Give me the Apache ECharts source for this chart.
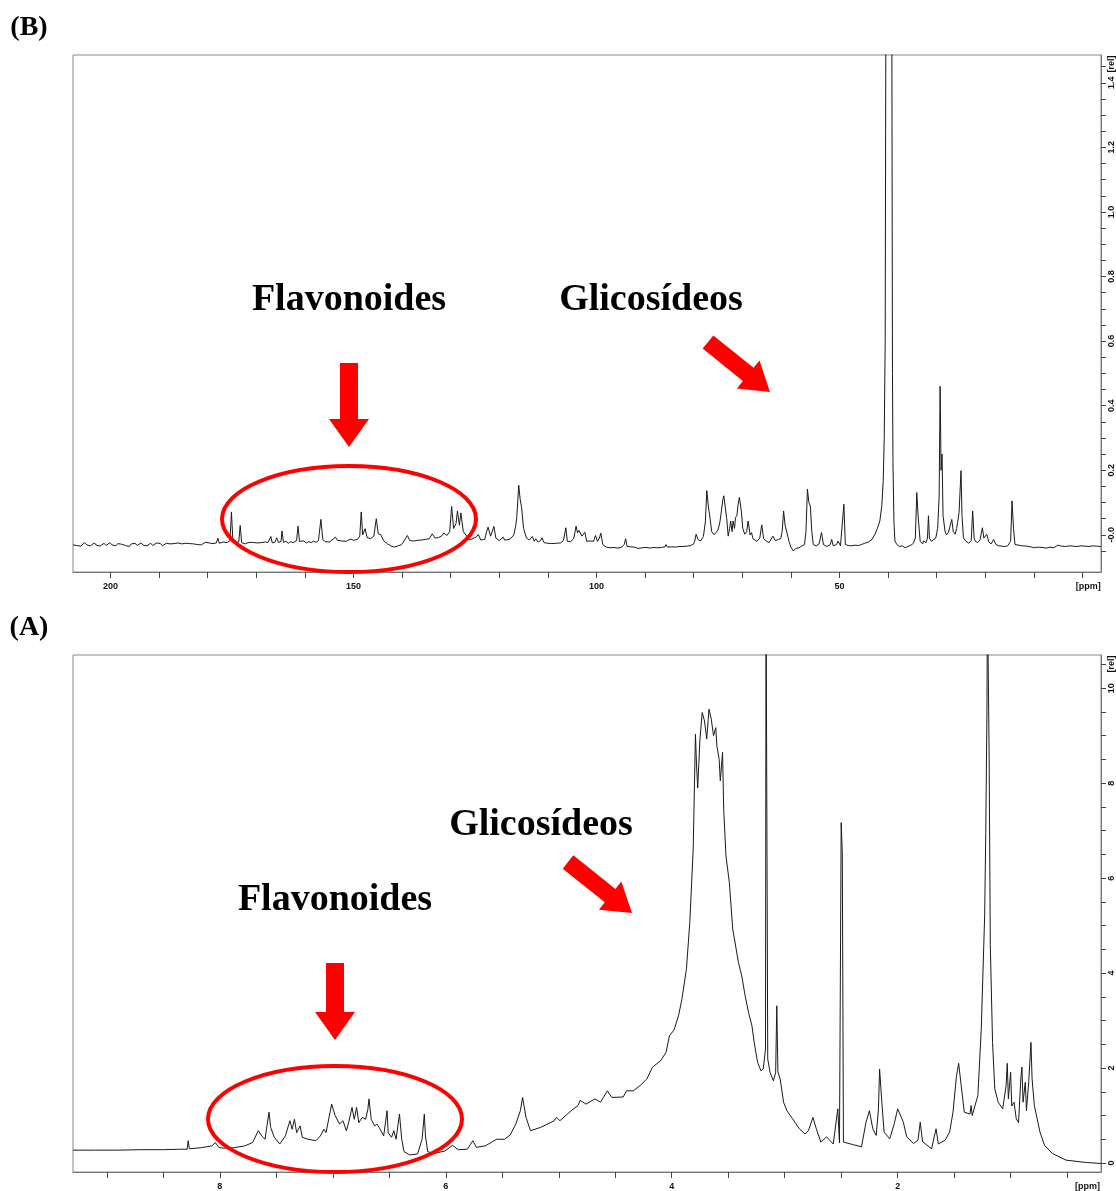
<!DOCTYPE html>
<html>
<head>
<meta charset="utf-8">
<script src="https://cdn.jsdelivr.net/npm/echarts@6/dist/echarts.min.js"></script>
<style>
  html, body { margin: 0; padding: 0; background: #fff; }
  #chart { width: 1116px; height: 1191px; }
</style>
</head>
<body>
<div id="chart"></div>
<script>
// 13C spectrum (B) -- [ppm, rel]
const carbonBaseline = [
  [207.7,-0.031],[207.3,-0.026],[206.9,-0.033],[206.5,-0.028],[206.1,-0.035],[205.7,-0.029],[205.3,-0.024],
  [204.9,-0.031],[204.5,-0.027],[204.1,-0.034],[203.7,-0.030],[203.3,-0.025],[202.9,-0.032],[202.5,-0.028],
  [202.1,-0.035],[201.7,-0.029],[201.3,-0.026],[200.9,-0.033],[200.5,-0.030],[200.1,-0.024],[199.7,-0.031],
  [199.3,-0.028],[198.9,-0.034],[198.5,-0.027],[198.1,-0.032],[197.7,-0.029],[197.3,-0.025],[196.9,-0.033],
  [196.5,-0.030],[196.1,-0.036],[195.7,-0.028],[195.3,-0.031],[194.9,-0.026],[194.5,-0.033],[194.1,-0.029],
  [193.7,-0.025],[193.3,-0.032],[192.9,-0.028],[192.5,-0.034],[192.1,-0.029],[191.7,-0.026],[191.3,-0.033],
  [190.9,-0.030],[190.5,-0.025],[190.1,-0.031],[189.7,-0.027],[189.3,-0.034],[188.9,-0.029],[188.5,-0.026],
  [188.1,-0.032],[187.7,-0.028],[187.3,-0.033],[186.9,-0.027],[186.5,-0.030],[186.1,-0.025],[185.7,-0.031],
  [185.3,-0.028],[184.9,-0.033],[184.5,-0.026],[184.1,-0.030],[183.7,-0.027],[183.3,-0.032],[182.9,-0.028],
  [182.5,-0.024],[182.1,-0.030],[181.7,-0.026],[181.3,-0.031],[180.9,-0.027],[180.5,-0.023],[180.1,-0.029],
  [179.7,-0.025],[179.3,-0.022],[178.9,-0.027],[178.6,-0.024]
];
const carbonAromatic = [
  [178.2,-0.025],[177.9,-0.010],[177.6,-0.026],[176.8,-0.022],[176,-0.024],[175.4,-0.018],[175.1,0.071],
  [174.8,-0.020],[174.1,-0.024],[173.6,-0.022],[173.3,0.029],[173,-0.024],[172.6,-0.021],[172.2,-0.028],
  [171.7,-0.024],[171.3,-0.027],[170.8,-0.023],[170.4,-0.029],[169.9,-0.025],[169.5,-0.028],[169,-0.024],
  [168.6,-0.027],[168.1,-0.022],[167.6,-0.024],[167.0,-0.005],[166.7,-0.025],[166.1,-0.022],
  [165.8,-0.009],[165.4,-0.024],[164.9,-0.020],[164.7,0.012],[164.4,-0.023],[163.9,-0.020],[163.4,-0.026],
  [162.9,-0.021],[162.4,-0.024],[161.7,-0.018],[161.4,0.027],[161.1,-0.020],[160.7,-0.023],[160.2,-0.019],
  [159.7,-0.025],[159.2,-0.021],[158.7,-0.024],[158.2,-0.020],[157.7,-0.023],[157.2,-0.018],
  [156.7,0.048],[156.3,-0.015],[155.8,-0.021],[155.4,-0.017],[154.9,-0.022],[154.5,-0.018],[153.7,-0.007],
  [153.3,-0.017],[152.9,-0.013],[152.4,-0.019],[152,-0.015],[151.5,-0.020],[151,-0.016],[150.5,-0.013],
  [150,-0.017],[149.6,-0.011],[149.2,-0.014],[148.7,-0.004],[148.4,0.071],[148.1,0.000],[147.6,0.019],
  [147.2,-0.008],[146.5,-0.012],[145.8,-0.004],[145.3,0.050],[144.9,0.003],[144.4,0.001],[143.8,-0.018],
  [143.4,-0.024],[143,-0.028],[142.6,-0.031],[142.3,-0.034],[141.9,-0.036],[141.7,-0.038],[141.3,-0.033],
  [141,-0.035],[140.6,-0.029],[140.2,-0.031],[139.8,-0.024],[139.5,-0.020],[138.9,-0.002],
  [138.4,-0.018],[138,-0.023],[137.6,-0.019],[137.2,-0.024],[136.8,-0.017],[136.4,-0.021],[136,-0.016],
  [135.6,-0.020],[135.2,-0.014],[134.8,-0.018],[134.4,-0.012],[133.8,0.003],
  [133.2,-0.010],[132.8,-0.014],[132.5,-0.008],[132.2,-0.011],[131.9,-0.004],[131.4,0.006],[130.8,-0.002],
  [130.2,0.010],[129.8,0.088],
  [129.4,0.020],[128.9,0.035],[128.6,0.074],[128.2,0.030],[127.9,0.068],[127.4,0.010],[126.7,-0.004],
  [126.3,-0.014],[126,-0.018],[125.6,-0.013],[125.3,-0.016],[124.7,-0.006],[124.3,0.001],[123.8,-0.016],
  [123.4,-0.011],[123,-0.014],[122.6,0.010],
  [122.3,0.024],[121.8,-0.004],[121.4,0.012],[121.1,0.026],[120.7,-0.010],[120.3,-0.014],[120,-0.018],
  [119.6,-0.012],[119.2,-0.007],[118.9,-0.016],[118.6,-0.020],[118.2,-0.015],[117.7,-0.012],[117.3,-0.006],
  [117,0.000],[116.6,0.030],[116.4,0.053],[116,0.154],[115.7,0.110],
  [115.4,0.084],[115,0.020],[114.4,-0.010],[113.8,-0.016],[113.2,-0.005],[112.8,-0.020],[112.5,-0.012],
  [112,-0.022],[111.5,-0.018],[111.2,-0.009],[110.8,-0.024],[110.4,-0.021],[110,-0.026],[109.6,-0.023],
  [109.2,-0.027],[108.8,-0.022],[108.3,-0.026],[107.9,-0.023],[107.4,-0.025],[106.8,-0.018],[106.3,0.022],
  [106,-0.020],[105.6,-0.025],[105.3,-0.021],[104.7,-0.012],[104.4,0.010],
  [104.2,0.027],[103.9,0.006],[103.6,0.014],[103.4,0.019],[103,-0.004],[102.7,-0.010],[102.4,0.008],
  [102,-0.020],[101.6,-0.015],[101.3,-0.019],[100.9,-0.023],[100.6,-0.020],[100.2,-0.002],[99.8,-0.020],
  [99.4,-0.010],[99.1,0.005],[98.7,-0.030],[98.3,-0.035],[98,-0.038],[97.6,-0.034],[97.2,-0.040],
  [96.8,-0.036],[96.4,-0.039],[96,-0.035],[95.6,-0.041],[95.2,-0.037],[94.8,-0.038],[94.3,-0.030],
  [94.0,-0.012],[93.7,-0.036],[93.3,-0.041],[93,-0.037],[92.6,-0.042],[92.2,-0.038],[91.8,-0.035],
  [91.4,-0.042],[91,-0.038],[90.6,-0.040],[90.2,-0.035],[89.8,-0.039],[89.4,-0.036],[89,-0.041],
  [88.6,-0.037],[88.2,-0.039],[87.8,-0.035],[87.4,-0.040],[87,-0.037],[86.6,-0.039],[86.2,-0.035],
  [85.9,-0.037],[85.7,-0.030],[85.4,-0.038],[85,-0.034],[84.6,-0.037],[84.2,-0.033],[83.8,-0.038],
  [83.4,-0.034],[83,-0.036],[82.6,-0.032],[82.2,-0.036],[81.8,-0.033],[81.4,-0.035],[81,-0.031],
  [80.6,-0.033],[80.3,-0.029],[80,-0.028]
];
const carbonSugar = [
  [79.8,-0.020],[79.5,0.002],[79.1,-0.015],[78.6,-0.019],[78.0,-0.005],[77.6,0.040],[77.3,0.137],[77,0.090],
  [76.7,0.059],[76.3,0.010],[75.8,0.000],[75.5,0.002],[75,0.015],[74.6,0.040],[74.3,0.074],[74,0.110],
  [73.8,0.121],[73.5,0.116],[73.2,0.050],[72.9,-0.004],[72.6,0.020],[72.4,0.043],[72.1,0.010],[71.9,0.043],
  [71.6,0.020],[71.4,0.053],[71.1,0.060],[70.9,0.090],[70.6,0.116],[70.2,0.074],[69.9,0.020],[69.5,0.002],
  [69.1,0.010],[68.8,0.043],[68.4,0.000],[68.1,0.007],[67.8,-0.012],[67.5,-0.009],[67,-0.020],[66.4,-0.010],
  [66,0.031],[65.6,-0.012],[65.1,-0.019],[64.5,-0.024],[63.7,-0.004],[63.2,-0.018],[62.6,-0.014],
  [62.1,-0.012],[61.8,0.010],[61.5,0.074],[61.2,0.030],[60.9,0.012],[60.4,-0.020],[60,-0.038],[59.5,-0.050],
  [59,-0.042],[58.4,-0.040],[57.8,-0.035],[57.2,-0.030],[56.9,0.010],[56.6,0.142],[56.3,0.100],[56,0.090],
  [55.7,0.010],[55.4,-0.030],[54.8,-0.034],[54.2,-0.028],[53.7,0.007],[53.3,-0.030],[52.6,-0.036],
  [51.9,-0.030],[51.6,-0.014],[51.3,-0.034],[50.6,-0.030],[50.3,-0.019],[49.8,-0.034],[49.4,-0.030],
  [49.1,0.095],[48.8,-0.030],[48.5,-0.036],[48.2,-0.033],[47.8,-0.038],[47.5,-0.034],[47.1,-0.037],
  [46.8,-0.032],[46.4,-0.036],[46.1,-0.033],[45.8,-0.035],[45.5,-0.030]
];
const carbonAliphatic = [
  [44.8,-0.026],[44,-0.022],[43.3,-0.014],[42.7,0.002],[42.2,0.020],[41.7,0.043],[41.3,0.090],[41.0,0.168],
  [40.8,0.300],[40.6,0.600],[40.45,1.700],[39.25,1.700],[39.1,0.500],[39.0,0.220],[38.8,0.040],[38.6,-0.019],
  [38.2,-0.030],[37.7,-0.036],[37.1,-0.034],[36.5,-0.040],[35.9,-0.036],[35.3,-0.032],[34.8,-0.026],
  [34.4,-0.010],[34.1,0.131],[33.95,0.090],[33.8,0.053],[33.4,-0.020],[32.9,-0.028],[32.7,-0.019],
  [32.2,-0.024],[31.9,-0.010],[31.7,0.059],[31.5,-0.010],[31.1,-0.020],[30.7,-0.024],[30.2,-0.010],
  [29.8,0.020],[29.5,0.120],[29.3,0.460],[29.1,0.200],[28.9,0.250],[28.7,0.060],[28.3,0.012],[28,0.000],
  [27.6,0.007],[27.3,0.010],[26.9,0.048],[26.6,0.010],[26.2,0.002],[25.9,0.020],[25.7,0.038],[25.4,0.070],
  [25.0,0.199],[24.8,0.060],[24.5,-0.009],[24,-0.020],[23.4,-0.026],[22.9,-0.018],[22.6,0.074],[22.3,-0.010],
  [22.1,-0.019],[21.6,-0.024],[21.1,-0.016],[20.6,0.022],[20.3,-0.010],[19.7,0.002],[19.3,-0.022],
  [18.8,-0.028],[18.3,-0.014],[17.8,-0.030],[17.2,-0.034],[16.6,-0.035],[16,-0.036],[15.4,-0.034],
  [14.8,-0.020],[14.5,0.105],[14.2,0.020],[13.9,-0.030],[13.5,-0.036],[13.1,-0.032],[12.7,-0.038],
  [12.3,-0.034],[11.9,-0.039],[11.5,-0.035],[11.1,-0.031],[10.7,-0.037],[10.3,-0.033],[9.9,-0.040],
  [9.5,-0.035],[9.1,-0.038],[8.7,-0.033],[8.3,-0.039],[7.9,-0.036],[7.5,-0.041],[7.1,-0.035],
  [6.7,-0.038],[6.3,-0.034],[5.9,-0.040],[5.5,-0.036],[5.1,-0.032],[4.7,-0.038],[4.3,-0.035],
  [3.9,-0.040],[3.5,-0.036],[3.1,-0.039],[2.7,-0.034],[2.3,-0.038],[1.9,-0.035],[1.5,-0.041],
  [1.1,-0.036],[0.7,-0.039],[0.3,-0.034],[-0.1,-0.038],[-0.5,-0.035],[-0.9,-0.040],[-1.3,-0.036],
  [-1.7,-0.039],[-2.1,-0.034],[-2.5,-0.038],[-2.9,-0.035],[-3.3,-0.039],[-3.8,-0.036]
];

// 1H spectrum (A) -- [ppm, rel]
const protonAromatic = [
  [9.3,0.27],[9.1,0.27],[8.9,0.27],[8.7,0.28],[8.5,0.28],[8.35,0.29],[8.29,0.29],[8.28,0.47],[8.27,0.30],
  [8.17,0.32],[8.07,0.36],[8.04,0.43],[8.01,0.33],[7.97,0.31],[7.88,0.32],[7.78,0.36],[7.71,0.43],
  [7.66,0.68],[7.63,0.57],[7.60,0.50],[7.565,1.07],[7.55,0.75],[7.52,0.55],[7.47,0.40],[7.42,0.57],
  [7.38,0.89],[7.36,0.71],[7.34,0.92],[7.32,0.64],[7.29,0.78],[7.27,0.54],[7.22,0.50],[7.15,0.47],
  [7.11,0.57],[7.08,0.71],[7.06,0.64],[7.01,1.24],[6.98,1.00],[6.94,0.82],[6.91,0.89],[6.88,0.68],
  [6.86,0.85],[6.83,1.17],[6.81,0.92],[6.79,1.17],[6.77,0.85],[6.74,0.96],[6.71,0.92],[6.69,1.13],
  [6.68,1.35],[6.66,0.92],[6.63,0.78],[6.61,0.82],[6.59,0.75],[6.55,0.57],[6.52,1.10],[6.51,0.64],
  [6.48,0.54],[6.46,0.68],[6.44,0.50],[6.41,1.03],[6.39,0.50],[6.37,0.24],[6.32,0.17],[6.25,0.19],
  [6.21,0.50],[6.19,1.03],[6.18,0.57],[6.16,0.24],[6.11,0.20],[6.01,0.25],[5.94,0.37]
];
const protonSugar = [
  [5.89,0.28],[5.81,0.29],[5.76,0.47],[5.73,0.33],[5.65,0.36],[5.55,0.50],[5.48,0.50],[5.43,0.59],
  [5.38,0.82],[5.34,1.10],[5.32,1.38],[5.29,0.96],[5.25,0.68],[5.16,0.75],[5.04,0.89],[5.02,0.96],
  [4.99,0.89],[4.89,1.10],[4.83,1.21],[4.81,1.32],[4.76,1.24],[4.68,1.35],[4.63,1.28],[4.57,1.52],
  [4.53,1.38],[4.43,1.39],[4.40,1.52],[4.34,1.52],[4.28,1.63],[4.22,1.77],[4.17,2.02],[4.10,2.15],
  [4.05,2.33],[4.02,2.68],[3.98,2.80],[3.94,3.10],[3.91,3.45],[3.87,4.08],[3.84,5.07],[3.81,6.61],
  [3.79,9.03],[3.78,8.36],[3.77,7.90],[3.75,8.93],[3.73,9.49],[3.71,9.31],[3.69,8.93],[3.67,9.56],
  [3.65,9.35],[3.63,9.00],[3.61,9.17],[3.60,8.78],[3.58,8.50],[3.57,8.05],[3.55,8.65],[3.54,7.45],
  [3.52,6.47],[3.49,5.91],[3.46,4.93],[3.41,4.23],[3.38,3.94],[3.35,3.52],[3.32,3.17],[3.29,2.89],
  [3.27,2.54],[3.24,2.12],[3.21,1.94],[3.19,1.98],[3.17,2.40],[3.165,12],[3.155,12],[3.15,2.19],
  [3.13,1.91],[3.10,1.73],[3.08,1.90],[3.07,3.31],[3.06,1.92],[3.04,1.77],[3.01,1.28],[2.98,1.10],
  [2.93,0.93],[2.87,0.72],[2.82,0.61],[2.79,0.68],[2.75,0.96],[2.72,0.72],[2.68,0.44],[2.63,0.55]
];
const protonAliphatic = [
  [2.57,0.40],[2.53,1.14],[2.515,0.42],[2.50,7.17],[2.49,6.54],[2.48,0.44],[2.40,0.39],[2.32,0.34],
  [2.28,0.86],[2.25,1.10],[2.22,0.72],[2.19,0.58],[2.17,1.14],[2.16,1.98],[2.14,1.28],[2.12,0.65],
  [2.07,0.51],[2.03,0.83],[2.00,1.14],[1.95,0.86],[1.92,0.55],[1.86,0.41],[1.82,0.48],[1.80,0.86],
  [1.78,0.45],[1.70,0.30],[1.66,0.72],[1.64,0.40],[1.58,0.48],[1.54,0.65],[1.51,1.07],[1.48,1.82],
  [1.46,2.10],[1.44,1.68],[1.41,1.07],[1.36,1.03],[1.35,1.21],[1.34,1.00],[1.29,1.42],[1.26,2.82],
  [1.23,5.20],[1.22,6.96],[1.21,9.40],[1.205,12],[1.195,12],[1.19,8.51],[1.18,4.60],[1.16,2.54],
  [1.14,1.56],[1.11,1.28],[1.07,1.14],[1.04,1.63],[1.03,2.10],[1.02,1.35],[1.00,1.91],[0.99,1.20],
  [0.97,1.28],[0.95,0.93],[0.93,0.85],[0.91,1.77],[0.90,2.02],[0.89,1.28],[0.87,1.70],[0.86,1.10],
  [0.84,1.70],[0.82,2.54],[0.81,1.77],[0.79,1.21],[0.74,0.65],[0.70,0.37],[0.63,0.20],[0.51,0.06],
  [0.33,0.01],[0.2,-0.01]
];

// axis ticks and labels
const carbonTicks = [0,10,20,30,40,50,60,70,80,90,100,110,120,130,140,150,160,170,180,190,200];
const carbonLabels = [-1.2,50,100,150,200];
const carbonRelTicks = [-0.05,0,0.05,0.1,0.15,0.2,0.25,0.3,0.35,0.4,0.45,0.5,0.55,0.6,0.65,0.7,
  0.75,0.8,0.85,0.9,0.95,1.0,1.05,1.1,1.15,1.2,1.25,1.3,1.35,1.4,1.45];
const carbonRelLabels = [0,0.2,0.4,0.6,0.8,1.0,1.2,1.4];
const protonTicks = [0.5,1,1.5,2,2.5,3,3.5,4,4.5,5,5.5,6,6.5,7,7.5,8,8.5,9];
const protonLabels = [0.32,2,4,6,8];
const protonRelTicks = [0,0.5,1,1.5,2,2.5,3,3.5,4,4.5,5,5.5,6,6.5,7,7.5,8,8.5,9,9.5,10,10.5];
const protonRelLabels = [0,2,4,6,8,10];

const carbonData = [].concat(carbonBaseline, carbonAromatic, carbonSugar, carbonAliphatic);
const protonData = [].concat(protonAromatic, protonSugar, protonAliphatic);

const RED = '#ff0000';
const serif = '"Liberation Serif", "Times New Roman", serif';
const tickFont = { fontSize: 9, color: '#111', fontWeight: 'bold', fontFamily: 'Liberation Sans' };

function arrow(x0, y0, x1, y1, sw, hw, hl) {
  const dx = x1 - x0, dy = y1 - y0, len = Math.hypot(dx, dy);
  const ux = dx / len, uy = dy / len, px = -uy, py = ux;
  const bx = x1 - ux * hl, by = y1 - uy * hl;
  return {
    type: 'polygon', z: 100,
    shape: { points: [
      [x0 + px * sw / 2, y0 + py * sw / 2], [bx + px * sw / 2, by + py * sw / 2],
      [bx + px * hw / 2, by + py * hw / 2], [x1, y1],
      [bx - px * hw / 2, by - py * hw / 2], [bx - px * sw / 2, by - py * sw / 2],
      [x0 - px * sw / 2, y0 - py * sw / 2]
    ] },
    style: { fill: RED }
  };
}
function label(text, x, y, size) {
  return { type: 'text', x: x, y: y, z: 100,
    style: { text: text, font: 'bold ' + size + 'px ' + serif, fill: '#000',
      textAlign: 'center', textVerticalAlign: 'middle' } };
}
function ring(cx, cy, rx, ry) {
  return { type: 'ellipse', z: 100, shape: { cx: cx, cy: cy, rx: rx, ry: ry },
    style: { fill: null, stroke: RED, lineWidth: 4 } };
}
function relTag(x, y) {
  return { type: 'text', x: x, y: y, rotation: Math.PI / 2, z: 100,
    style: { text: '[rel]', font: 'bold 9px "Liberation Sans"', fill: '#111',
      textAlign: 'center', textVerticalAlign: 'middle' } };
}

function xAxisFor(gi, min, max, ticks, labels, fmt) {
  return {
    gridIndex: gi, type: 'value', inverse: true, min: min, max: max,
    axisLine: { show: true, onZero: false, lineStyle: { color: '#777' } },
    axisTick: { show: true, customValues: ticks, length: 6, lineStyle: { color: '#444' } },
    axisLabel: Object.assign({ customValues: labels, formatter: fmt, margin: 10 }, tickFont),
    splitLine: { show: false }
  };
}
function yAxisFor(gi, min, max, ticks, labels, fmt) {
  return {
    gridIndex: gi, type: 'value', position: 'right', min: min, max: max,
    axisLine: { show: true, onZero: false, lineStyle: { color: '#777' } },
    axisTick: { show: true, customValues: ticks, length: 5, lineStyle: { color: '#444' } },
    axisLabel: Object.assign({ customValues: labels, formatter: fmt, rotate: 90, margin: 6 }, tickFont),
    splitLine: { show: false }
  };
}

const chart = echarts.init(document.getElementById('chart'));
chart.setOption({
  backgroundColor: '#fff',
  animation: false,
  grid: [
    { left: 73, top: 55, width: 1031, height: 517, show: true, borderColor: '#888', borderWidth: 1 },
    { left: 73, top: 655, width: 1031, height: 518, show: true, borderColor: '#888', borderWidth: 1 }
  ],
  xAxis: [
    xAxisFor(0, -3.8, 207.7, carbonTicks, carbonLabels, v => v < 0 ? '[ppm]' : String(v)),
    xAxisFor(1, 0.2, 9.3, protonTicks, protonLabels, v => v < 1 ? '[ppm]' : String(v))
  ],
  yAxis: [
    yAxisFor(0, -0.115, 1.486, carbonRelTicks, carbonRelLabels, v => v === 0 ? '-0.0' : v.toFixed(1)),
    yAxisFor(1, -0.19, 10.7, protonRelTicks, protonRelLabels, v => String(v))
  ],
  series: [
    { type: 'line', xAxisIndex: 0, yAxisIndex: 0, data: carbonData, showSymbol: false,
      lineStyle: { color: '#1a1a1a', width: 1 }, clip: true },
    { type: 'line', xAxisIndex: 1, yAxisIndex: 1, data: protonData, showSymbol: false,
      lineStyle: { color: '#1a1a1a', width: 1 }, clip: true }
  ],
  graphic: [
    label('(B)', 29, 28, 28),
    label('(A)', 29, 628, 28),
    label('Flavonoides', 349, 300, 38),
    label('Glicosídeos', 651, 300, 38),
    label('Glicosídeos', 541, 825, 38),
    label('Flavonoides', 335, 900, 38),
    arrow(349, 363, 349, 447, 18, 40, 28),
    arrow(335, 963, 335, 1040, 18, 40, 28),
    arrow(708, 342, 770, 392, 17, 36, 28),
    arrow(568, 862, 632, 913, 17, 36, 28),
    ring(349, 519, 127, 53),
    ring(335, 1119, 127, 53),
    relTag(1112, 64),
    relTag(1112, 664)
  ]
});
</script>
</body>
</html>
